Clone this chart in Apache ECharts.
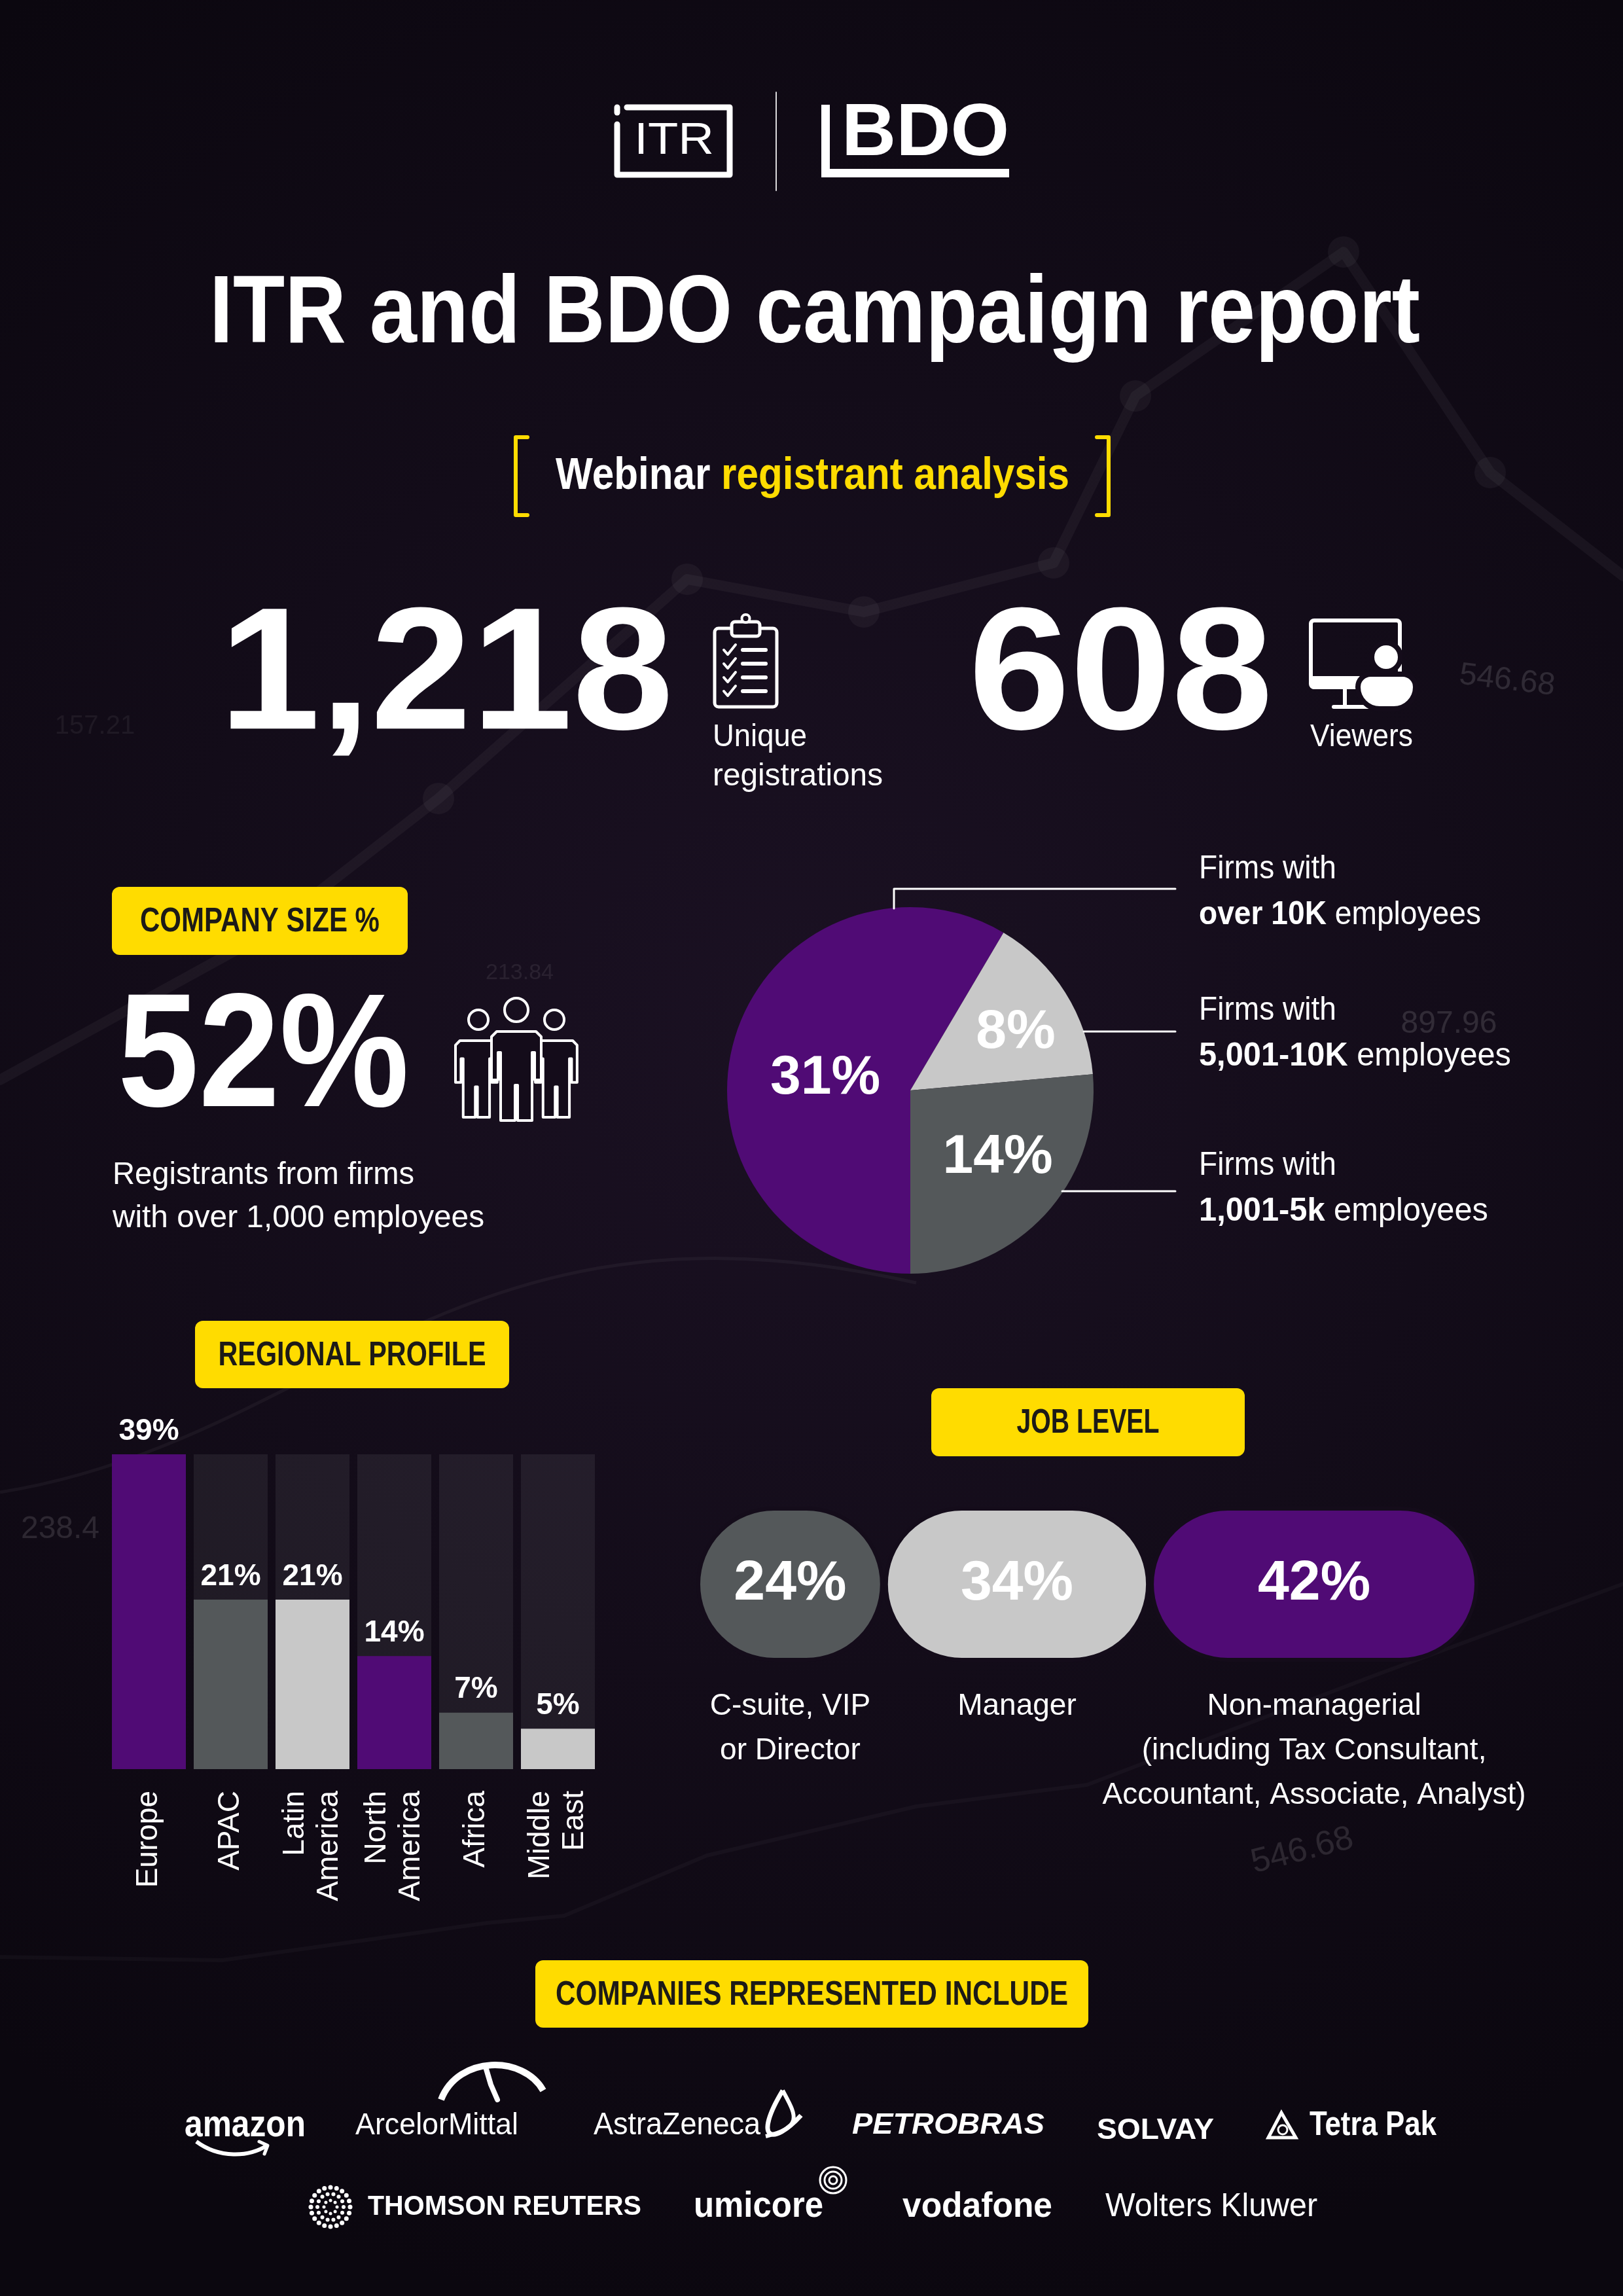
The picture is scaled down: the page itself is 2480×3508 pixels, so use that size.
<!DOCTYPE html>
<html><head><meta charset="utf-8">
<script src="https://cdn.jsdelivr.net/npm/echarts@6/dist/echarts.min.js"></script>
<style>html,body{margin:0;padding:0;background:#0f0916}#c{width:2480px;height:3508px}</style>
</head><body><div id="c"></div><script>
// ---------- data ----------
const regions = ['Europe', 'APAC', 'Latin\nAmerica', 'North\nAmerica', 'Africa', 'Middle\nEast'];
const regionValues = [39, 21, 21, 14, 7, 5];
const sizeGroups = ['over 10K', '5,001-10K', '1,001-5k'];
const sizeValues = [31, 8, 14];
const jobLevels = ['C-suite, VIP\nor Director', 'Manager', 'Non-managerial\n(including Tax Consultant,\nAccountant, Associate, Analyst)'];
const jobValues = [24, 34, 42];
const registrations = '1,218';
const viewers = '608';
const over1000 = '52%';
const companiesRow1 = ['amazon', 'ArcelorMittal', 'AstraZeneca', 'PETROBRAS', 'SOLVAY', 'Tetra Pak'];
const companiesRow2 = ['THOMSON REUTERS', 'umicore', 'vodafone', 'Wolters Kluwer'];

// ---------- styles ----------
const PURPLE = '#500b75', DARK = '#54585a', LIGHT = '#c8c8c8', YELLOW = '#ffdc00', INK = '#1c1a17', BGC = '#140c1a';
const FAM = "'Liberation Sans', Arial, sans-serif";
const regionColors = [PURPLE, DARK, LIGHT, PURPLE, DARK, LIGHT];
const pieColors = [PURPLE, LIGHT, DARK];
const jobColors = [DARK, LIGHT, PURPLE];
const pieLabelShift = [[8, 20], [40, -12], [28, 6]];

const mctx = document.createElement('canvas').getContext('2d');
function mw(t, size, weight, style) { mctx.font = `${style || 'normal'} ${weight || 'normal'} ${size}px ${FAM}`; return mctx.measureText(t).width; }
function T(o) {
  const nat = mw(o.text, o.size, o.weight, o.fstyle);
  const sx = o.w ? o.w / nat : 1;
  const al = o.align || 'left';
  return { type: 'text', x: o.x, y: o.y, scaleX: sx, rotation: o.rot || 0, z: o.z == null ? 10 : o.z, silent: true,
    style: { text: o.text, x: 0, y: 0, fill: o.color || '#fff', fontSize: o.size, fontWeight: o.weight || 'normal',
      fontStyle: o.fstyle || 'normal', fontFamily: FAM, align: al, textAlign: al, verticalAlign: 'middle', textVerticalAlign: 'middle',
      opacity: o.opacity == null ? 1 : o.opacity } };
}
function R(o) {
  let nat = 0; const rich = {}; let text = '';
  o.segs.forEach((s, i) => {
    nat += mw(s.t, o.size, s.weight || 'normal');
    rich['s' + i] = { fill: s.color || '#fff', color: s.color || '#fff', fontSize: o.size, fontWeight: s.weight || 'normal', fontFamily: FAM };
    text += `{s${i}|${s.t}}`;
  });
  const sx = o.w ? o.w / nat : 1;
  return { type: 'text', x: o.x, y: o.y, scaleX: sx, z: 10, silent: true,
    style: { text, rich, x: 0, y: 0, align: o.align || 'left', textAlign: o.align || 'left', verticalAlign: 'middle', textVerticalAlign: 'middle' } };
}
function pill(text, x1, y1, x2, y2, tw) {
  return [
    { type: 'rect', z: 5, silent: true, shape: { x: x1, y: y1, width: x2 - x1, height: y2 - y1, r: 12 }, style: { fill: YELLOW } },
    T({ x: (x1 + x2) / 2, y: (y1 + y2) / 2 + 2, text, size: 52, weight: 'bold', color: INK, w: tw, align: 'center' })
  ];
}
function ln(pts, lw, color, op) { return { type: 'polyline', z: 6, silent: true, shape: { points: pts }, style: { stroke: color || '#fff', lineWidth: lw || 3, fill: 'none', opacity: op == null ? 1 : op, lineCap: 'round', lineJoin: 'round' } }; }
function personPts(x0, y0, sx, sy) {
  const p = [[8,0],[68,0],[76,8],[76,74],[66,74],[66,32],[62,32],[62,136],[40,136],[40,82],[36,82],[36,136],[14,136],[14,32],[10,32],[10,74],[0,74],[0,8]];
  return p.map(q => [x0 + q[0] * sx, y0 + q[1] * sy]);
}

const g = [];
// faint background decoration
const deco1 = [[0,1650],[400,1430],[670,1220],[1050,885],[1320,935],[1610,860],[1735,605],[2053,385],[2277,722],[2480,880]];
g.push(Object.assign(ln(deco1, 16, '#ffffff', 0.045), { z: 0 }));
deco1.slice(1, -1).forEach(p => g.push({ type: 'circle', z: 0, silent: true, shape: { cx: p[0], cy: p[1], r: 24 }, style: { fill: '#ffffff', opacity: 0.045 } }));
g.push(Object.assign(ln([[0,2990],[340,2995],[744,2938],[862,2927],[1080,2835],[1400,2760],[1661,2727],[2100,2560],[2480,2420]], 6, '#ffffff', 0.03), { z: 0 }));
g.push({ type: 'bezierCurve', z: 0, silent: true, shape: { x1: 0, y1: 2280, cpx1: 500, cpy1: 2200, cpx2: 700, cpy2: 1800, x2: 1400, y2: 1960 }, style: { stroke: '#fff', lineWidth: 5, opacity: 0.045, fill: 'none' } });
[['546.68', 2303, 1040, 48, -0.12, 0.13], ['897.96', 2214, 1565, 48, 0, 0.13], ['213.84', 794, 1487, 34, 0, 0.08], ['238.4', 92, 2337, 48, 0, 0.12], ['546.68', 1990, 2828, 52, 0.25, 0.12], ['157.21', 145, 1110, 40, 0, 0.06]]
  .forEach(d => g.push(T({ x: d[1], y: d[2], text: d[0], size: d[3], color: '#ffffff', opacity: d[5], rot: d[4], align: 'center', z: 1 })));

// logos
g.push(ln([[958,164],[1115,164],[1115,267],[943,267],[943,190]], 9));
g.push(ln([[943,164],[943,172]], 9));
g.push(T({ x: 1030, y: 216, text: 'ITR', size: 68, weight: 'normal', w: 122, align: 'center' }));
g.push(ln([[1186,141],[1186,291]], 2, '#ffffff', 0.85));
g.push({ type: 'rect', z: 6, silent: true, shape: { x: 1255, y: 160, width: 13, height: 111 }, style: { fill: '#fff' } });
g.push({ type: 'rect', z: 6, silent: true, shape: { x: 1255, y: 258, width: 287, height: 13 }, style: { fill: '#fff' } });
g.push(T({ x: 1286, y: 206, text: 'BDO', size: 113, weight: 'bold', w: 256 }));

// title
g.push(T({ x: 1245, y: 482, text: 'ITR and BDO campaign report', size: 147, weight: 'bold', w: 1850, align: 'center' }));
g.push(ln([[806,668],[788,668],[788,787],[806,787]], 6, YELLOW));
g.push(ln([[1676,668],[1694,668],[1694,787],[1676,787]], 6, YELLOW));
g.push(R({ x: 849, y: 728, size: 68, w: 785, segs: [{ t: 'Webinar ', weight: 'bold' }, { t: 'registrant analysis', weight: 'bold', color: YELLOW }] }));

// headline numbers
g.push(T({ x: 335, y: 1040, text: registrations, size: 266, weight: 'bold', w: 694 }));
g.push(T({ x: 1480, y: 1040, text: viewers, size: 266, weight: 'bold', w: 465 }));
g.push(T({ x: 1089, y: 1127, text: 'Unique', size: 48, w: 144 }));
g.push(T({ x: 1089, y: 1187, text: 'registrations', size: 48, w: 260 }));
g.push(T({ x: 2002, y: 1127, text: 'Viewers', size: 48, w: 157 }));
// clipboard icon
g.push({ type: 'rect', z: 6, silent: true, shape: { x: 1092, y: 960, width: 95, height: 120, r: 6 }, style: { stroke: '#fff', fill: 'none', lineWidth: 5 } });
g.push({ type: 'rect', z: 7, silent: true, shape: { x: 1118, y: 950, width: 43, height: 22, r: 5 }, style: { stroke: '#fff', fill: BGC, lineWidth: 5 } });
g.push({ type: 'circle', z: 7, silent: true, shape: { cx: 1139.5, cy: 945, r: 6 }, style: { stroke: '#fff', fill: BGC, lineWidth: 4 } });
[993, 1014, 1035, 1056].forEach(y => { g.push(ln([[1106,y],[1112,y+7],[1124,y-8]], 4)); g.push(ln([[1135,y],[1170,y]], 6)); });
// monitor icon
g.push({ type: 'rect', z: 6, silent: true, shape: { x: 2003, y: 948, width: 136, height: 102, r: 5 }, style: { stroke: '#fff', fill: 'none', lineWidth: 6 } });
g.push({ type: 'rect', z: 6, silent: true, shape: { x: 2003, y: 1033, width: 136, height: 20, r: [0,0,5,5] }, style: { fill: '#fff' } });
g.push(ln([[2055,1053],[2055,1079]], 6));
g.push(ln([[2038,1080],[2090,1080]], 6));
g.push({ type: 'rect', z: 8, silent: true, shape: { x: 2075, y: 1030, width: 88, height: 53, r: [26,26,44,44] }, style: { fill: '#fff', stroke: BGC, lineWidth: 8 } });
g.push({ type: 'circle', z: 8, silent: true, shape: { cx: 2118, cy: 1004, r: 22 }, style: { fill: '#fff', stroke: BGC, lineWidth: 8 } });

// company size
g.push(...pill('COMPANY SIZE %', 171, 1355, 623, 1459, 366));
g.push(T({ x: 180, y: 1622, text: over1000, size: 247, weight: 'bold', w: 445 }));
[[696, 1590, 0.84, 0.86], [818, 1590, 0.84, 0.86]].forEach(p => g.push({ type: 'polygon', z: 6, silent: true, shape: { points: personPts(p[0], p[1], p[2], p[3]) }, style: { stroke: '#fff', fill: BGC, lineWidth: 4, lineJoin: 'round' } }));
g.push({ type: 'polygon', z: 7, silent: true, shape: { points: personPts(751, 1576, 1, 1) }, style: { stroke: '#fff', fill: BGC, lineWidth: 4, lineJoin: 'round' } });
[[731, 1558, 15], [847, 1558, 15], [789, 1543, 18]].forEach(c => g.push({ type: 'circle', z: 7, silent: true, shape: { cx: c[0], cy: c[1], r: c[2] }, style: { stroke: '#fff', fill: 'none', lineWidth: 4 } }));
g.push(T({ x: 172, y: 1796, text: 'Registrants from firms', size: 48, w: 461 }));
g.push(T({ x: 172, y: 1862, text: 'with over 1,000 employees', size: 48, w: 568 }));

// pie annotations
g.push(ln([[1366,1388],[1366,1358],[1796,1358]], 3));
g.push(ln([[1656,1576],[1796,1576]], 3));
g.push(ln([[1623,1820],[1796,1820]], 3));
const firmY = [1328, 1544, 1781];
const firmW = [431, 477, 442];
sizeGroups.forEach((s, i) => {
  g.push(T({ x: 1832, y: firmY[i], text: 'Firms with', size: 50, w: 210 }));
  g.push(R({ x: 1832, y: firmY[i] + 70, size: 50, w: firmW[i], segs: [{ t: s, weight: 'bold' }, { t: ' employees' }] }));
});

// section pills
g.push(...pill('REGIONAL PROFILE', 298, 2018, 778, 2121, 409));
g.push(...pill('JOB LEVEL', 1423, 2121, 1902, 2225, 218));
g.push(...pill('COMPANIES REPRESENTED INCLUDE', 818, 2995, 1663, 3098, 783));

// company logos (text + simple marks)
const row1 = [[282, 185, 58, 'bold', 'normal'], [543, 249, 46, 'normal', 'normal'], [907, 255, 48, 'normal', 'normal'], [1302, 294, 44, 'bold', 'italic'], [1676, 179, 44, 'bold', 'normal'], [2001, 194, 52, 'bold', 'normal']];
companiesRow1.forEach((c, i) => { const r = row1[i]; g.push(T({ x: r[0], y: i === 4 ? 3256 : 3248, text: c, size: r[2], weight: r[3], fstyle: r[4], w: r[1] })); });
const row2 = [[562, 418, 42, 'bold'], [1060, 198, 56, 'bold'], [1379, 229, 54, 'bold'], [1689, 324, 50, 'normal']];
companiesRow2.forEach((c, i) => { const r = row2[i]; g.push(T({ x: r[0], y: 3372, text: c, size: r[2], weight: r[3], w: r[1] })); });
g.push({ type: 'bezierCurve', z: 6, silent: true, shape: { x1: 300, y1: 3272, cpx1: 335, cpy1: 3298, cpx2: 380, cpy2: 3296, x2: 408, y2: 3278 }, style: { stroke: '#fff', lineWidth: 6, fill: 'none' } });
g.push(ln([[396,3272],[409,3278],[404,3291]], 5));
g.push({ type: 'bezierCurve', z: 6, silent: true, shape: { x1: 674, y1: 3208, cpx1: 700, cpy1: 3140, cpx2: 800, cpy2: 3140, x2: 830, y2: 3194 }, style: { stroke: '#fff', lineWidth: 10, fill: 'none' } });
g.push(ln([[742,3158],[750,3185],[760,3208]], 8));
g.push({ type: 'bezierCurve', z: 6, silent: true, shape: { x1: 1196, y1: 3194, cpx1: 1150, cpy1: 3270, cpx2: 1180, cpy2: 3280, x2: 1224, y2: 3232 }, style: { stroke: '#fff', lineWidth: 7, fill: 'none' } });
g.push({ type: 'bezierCurve', z: 6, silent: true, shape: { x1: 1196, y1: 3194, cpx1: 1215, cpy1: 3230, cpx2: 1230, cpy2: 3250, x2: 1170, y2: 3264 }, style: { stroke: '#fff', lineWidth: 6, fill: 'none' } });
g.push({ type: 'polygon', z: 6, silent: true, shape: { points: [[1958,3228],[1980,3266],[1938,3266]] }, style: { stroke: '#fff', fill: 'none', lineWidth: 5 } });
g.push({ type: 'circle', z: 6, silent: true, shape: { cx: 1960, cy: 3254, r: 7 }, style: { stroke: '#fff', fill: 'none', lineWidth: 3 } });
[[10, 8, 2.5], [20, 14, 3], [30, 20, 3.5]].forEach(ring => { for (let k = 0; k < ring[1]; k++) { const a = k / ring[1] * Math.PI * 2; g.push({ type: 'circle', z: 6, silent: true, shape: { cx: 505 + ring[0] * Math.cos(a), cy: 3372 + ring[0] * Math.sin(a), r: ring[2] }, style: { fill: '#fff' } }); } });
[20, 13, 6].forEach(r => g.push({ type: 'circle', z: 6, silent: true, shape: { cx: 1273, cy: 3331, r }, style: { stroke: '#fff', fill: 'none', lineWidth: 3 } }));

// ---------- chart ----------
const series = [];
series.push({
  type: 'bar', xAxisIndex: 0, yAxisIndex: 0, barWidth: 113, silent: true,
  showBackground: true, backgroundStyle: { color: 'rgba(255,255,255,0.065)' },
  data: regionValues.map((v, i) => ({ value: v, itemStyle: { color: regionColors[i] } })),
  label: { show: true, position: 'top', distance: 12, formatter: '{c}%', color: '#fff', fontSize: 46, fontWeight: 'bold', fontFamily: FAM }
});
jobValues.forEach((v, i) => series.push({
  type: 'bar', xAxisIndex: 1, yAxisIndex: 1, stack: 'job', barWidth: 237, silent: true, data: [v],
  itemStyle: { color: jobColors[i], borderRadius: 118, borderColor: BGC, borderWidth: 6 },
  label: { show: true, position: 'inside', formatter: '{c}%', color: '#fff', fontSize: 86, fontWeight: 'bold', fontFamily: FAM }
}));
jobValues.forEach((v, i) => series.push({
  type: 'bar', xAxisIndex: 1, yAxisIndex: 1, stack: 'desc', barWidth: 237, barGap: '-100%', silent: true, data: [v],
  itemStyle: { color: 'rgba(0,0,0,0)' },
  label: { show: true, position: 'bottom', distance: 34, formatter: jobLevels[i], color: '#fff', fontSize: 46, lineHeight: 68, fontFamily: FAM, align: 'center' }
}));
series.push({
  type: 'pie', center: [1391, 1666], radius: 280, startAngle: 270, clockwise: true, silent: true, avoidLabelOverlap: false,
  data: sizeValues.map((v, i) => ({ value: v, name: sizeGroups[i], itemStyle: { color: pieColors[i] } })),
  label: { show: true, position: 'inside', formatter: '{c}%', color: '#fff', fontSize: 84, fontWeight: 'bold', fontFamily: FAM },
  labelLine: { show: false },
  labelLayout: p => ({ dx: pieLabelShift[p.dataIndex][0], dy: pieLabelShift[p.dataIndex][1] })
});

const option = {
  animation: false,
  backgroundColor: { type: 'radial', x: 0.5, y: 0.45, r: 0.8, colorStops: [{ offset: 0, color: '#1b1123' }, { offset: 1, color: '#0b070f' }] },
  grid: [{ left: 165, top: 2222, width: 750, height: 481 }, { left: 1064, top: 2302, width: 1195, height: 237 }],
  xAxis: [
    { gridIndex: 0, type: 'category', data: regions, axisLine: { show: false }, axisTick: { show: false },
      axisLabel: { interval: 0, rotate: 90, color: '#fff', fontSize: 46, lineHeight: 52, margin: 33, fontFamily: FAM } },
    { gridIndex: 1, type: 'value', min: 0, max: 100, show: false }
  ],
  yAxis: [
    { gridIndex: 0, type: 'value', min: 0, max: v => v.max, show: false },
    { gridIndex: 1, type: 'category', data: ['Job level'], show: false }
  ],
  series,
  graphic: { elements: g }
};
const chart = echarts.init(document.getElementById('c'), null, { renderer: 'canvas' });
chart.setOption(option);
</script></body></html>
